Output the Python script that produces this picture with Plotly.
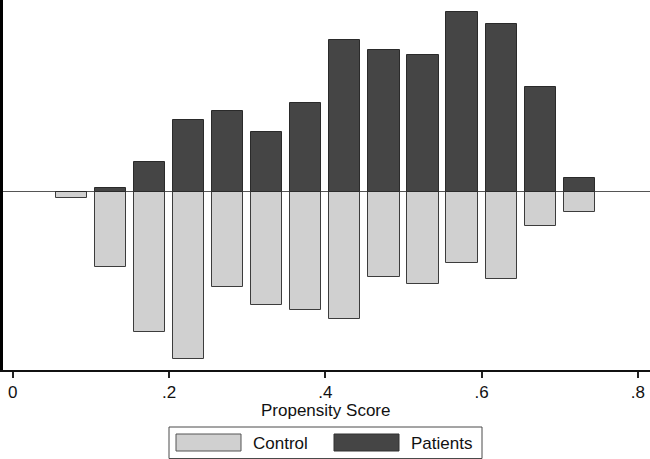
import plotly.graph_objects as go

# Data (density per bin)
bin_centers = [0.075, 0.125, 0.175, 0.225, 0.275, 0.325, 0.375,
               0.425, 0.475, 0.525, 0.575, 0.625, 0.675, 0.725]
patients = [0.0, 0.066, 0.482, 1.157, 1.312, 0.968, 1.437,
            2.451, 2.294, 2.218, 2.914, 2.710, 1.696, 0.223]
control = [0.095, 1.217, 2.273, 2.701, 1.536, 1.832, 1.917,
           2.063, 1.379, 1.492, 1.147, 1.416, 0.558, 0.327]
tick_vals = [0, 0.2, 0.4, 0.6, 0.8]
tick_text = ["0", ".2", ".4", ".6", ".8"]

W, H = 650, 459
ML, MR, MT, MB = 3, 0, 0, 89
PW, PH = W - ML - MR, H - MT - MB

FONT = "Liberation Sans, Arial, sans-serif"
DARK = "#454545"
LIGHT = "#d0d0d0"
EDGE = "#3c3c3c"

def px2x(px):
    return (px - ML) / PW

def px2y(py):
    return (H - MB - py) / PH

fig = go.Figure()
fig.add_trace(go.Bar(x=bin_centers, y=[-v for v in control], width=0.04,
                     marker=dict(color=LIGHT, line=dict(color=EDGE, width=1)),
                     name="Control", showlegend=False))
fig.add_trace(go.Bar(x=bin_centers, y=patients, width=0.04,
                     marker=dict(color=DARK, line=dict(color="#2a2a2a", width=1)),
                     name="Patients", showlegend=False))

shapes = []
annotations = []
# legend box
shapes.append(dict(type="rect", xref="paper", yref="paper",
                   x0=px2x(169), x1=px2x(482), y0=px2y(427), y1=px2y(458.5),
                   line=dict(color="#4a4a4a", width=1), fillcolor="white"))
shapes.append(dict(type="rect", xref="paper", yref="paper",
                   x0=px2x(176), x1=px2x(241), y0=px2y(434), y1=px2y(451),
                   line=dict(color="#555555", width=1), fillcolor=LIGHT))
shapes.append(dict(type="rect", xref="paper", yref="paper",
                   x0=px2x(334), x1=px2x(399), y0=px2y(434), y1=px2y(451),
                   line=dict(color="#333333", width=1), fillcolor=DARK))
annotations.append(dict(text="Control", xref="paper", yref="paper",
                        x=px2x(251), y=px2y(443), xanchor="left", yanchor="middle",
                        showarrow=False, font=dict(family=FONT, size=17, color="#111")))
annotations.append(dict(text="Patients", xref="paper", yref="paper",
                        x=px2x(409), y=px2y(443), xanchor="left", yanchor="middle",
                        showarrow=False, font=dict(family=FONT, size=17, color="#111")))
annotations.append(dict(text="Propensity Score", xref="paper", yref="paper",
                        x=px2x(325), y=px2y(410), xanchor="center", yanchor="middle",
                        showarrow=False, font=dict(family=FONT, size=17, color="#111")))

fig.update_layout(
    width=W, height=H,
    margin=dict(l=ML, r=MR, t=MT, b=MB, pad=0),
    paper_bgcolor="white", plot_bgcolor="white",
    barmode="overlay", bargap=0,
    showlegend=False,
    shapes=shapes, annotations=annotations,
    font=dict(family=FONT, size=17, color="#111"),
    xaxis=dict(range=[(ML - 12.7) / 781.5, (W - 12.7) / 781.5],
               tickvals=tick_vals, ticktext=tick_text,
               ticks="outside", ticklen=6, tickwidth=1.5, tickcolor="#222",
               showline=True, linewidth=2, linecolor="#111",
               showgrid=False, zeroline=False,
               tickfont=dict(family=FONT, size=17, color="#111")),
    yaxis=dict(range=[-(370 - 191.8) / 61.8, 191.8 / 61.8],
               showticklabels=False, ticks="",
               showline=True, linewidth=3, linecolor="#000",
               showgrid=False, zeroline=True, zerolinecolor="#555555",
               zerolinewidth=1),
)

fig.write_html("out.html",
               config={"displayModeBar": False},
               post_script="document.body.style.margin='0';"
                           "document.body.style.overflow='hidden';")
